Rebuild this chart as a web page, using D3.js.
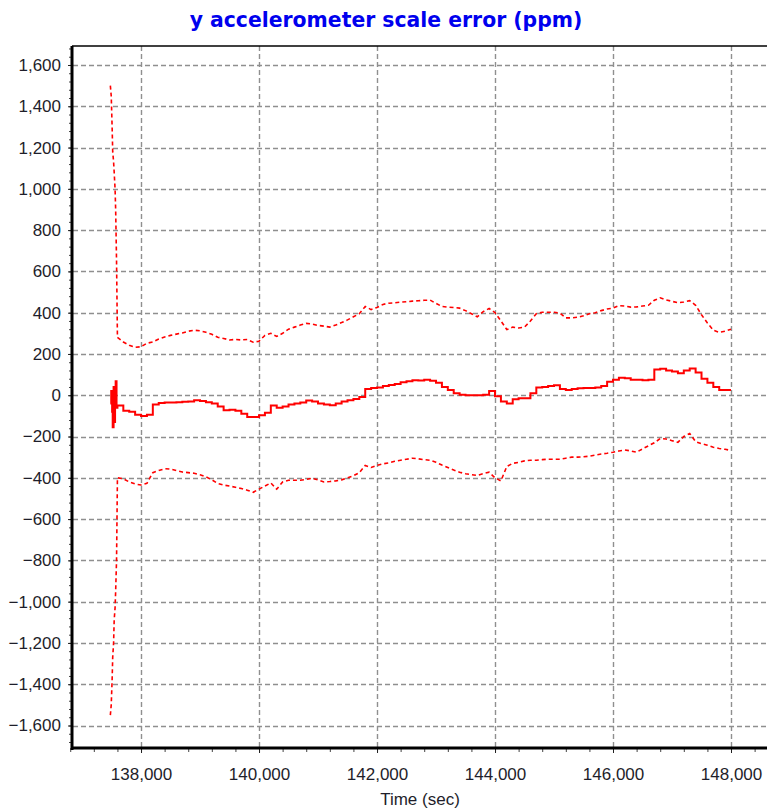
<!DOCTYPE html>
<html>
<head>
<meta charset="utf-8">
<script src="https://cdn.jsdelivr.net/npm/d3@7"></script>
<style>
  html, body { margin: 0; padding: 0; background: #fff; }
  svg { display: block; font-family: "Liberation Sans", Arial, sans-serif; }
</style>
</head>
<body>
<svg id="chart" width="767" height="812"></svg>
<script>
// ---------------- data ----------------
const title = "y accelerometer scale error (ppm)";
const xLabel = "Time (sec)";
const xTickValues = [138000, 140000, 142000, 144000, 146000, 148000];
const yTickValues = [-1600, -1400, -1200, -1000, -800, -600, -400, -200, 0, 200, 400, 600, 800, 1000, 1200, 1400, 1600];

const time = [
  137480, 137495, 137510, 137520, 137535, 137545, 137560, 137570, 137585,
  137600, 137700, 137800, 137900, 138000, 138100, 138200, 138300, 138400, 138500,
  138600, 138700, 138800, 138900, 139000, 139100, 139200, 139300, 139400, 139500,
  139600, 139700, 139800, 139900, 140000, 140100, 140200, 140300, 140400, 140500,
  140600, 140700, 140800, 140900, 141000, 141100, 141200, 141300, 141400, 141500,
  141600, 141700, 141800, 141900, 142000, 142100, 142200, 142300, 142400, 142500,
  142600, 142700, 142800, 142900, 143000, 143100, 143200, 143300, 143400, 143500,
  143600, 143700, 143800, 143900, 144000, 144100, 144200, 144300, 144400, 144500,
  144600, 144700, 144800, 144900, 145000, 145100, 145200, 145300, 145400, 145500,
  145600, 145700, 145800, 145900, 146000, 146100, 146200, 146300, 146400, 146500,
  146600, 146700, 146800, 146900, 147000, 147100, 147200, 147300, 147400, 147500,
  147600, 147700, 147800, 147900, 148000
];
const scaleErrorUpper = [
  1500, 1450, 1300, 1180, 1130, 1080, 1000, 900, 650,
  280, 258, 242, 232, 235, 252, 258, 272, 282, 290,
  296, 302, 310, 315, 312, 305, 295, 281, 275, 268,
  270, 268, 270, 257, 262, 290, 300, 285, 300, 320,
  330, 340, 348, 345, 338, 335, 330, 340, 352, 365,
  380, 395, 430, 415, 425, 440, 446, 448, 451, 453,
  456, 458, 460, 461, 445, 430, 427, 425, 422, 410,
  395, 380, 405, 420, 400, 360, 318, 330, 326, 330,
  360, 395, 402, 402, 402, 398, 375, 375, 378, 385,
  395, 400, 410, 418, 422, 434, 432, 427, 428, 432,
  436, 460, 472, 462, 455, 448, 452, 458, 436, 390,
  350, 315, 305, 310, 320
];
const scaleErrorMean = [
  -40, 20, -80, -155, 40, -130, 30, 68, -60,
  -50, -75, -80, -95, -100, -95, -45, -38, -35, -35,
  -34, -32, -30, -24, -28, -34, -40, -55, -73, -70,
  -75, -90, -105, -105, -97, -85, -50, -60, -55, -45,
  -40, -35, -25, -30, -40, -45, -48, -40, -30, -24,
  -18, -8, 30, 35, 38, 45, 50, 55, 63, 68,
  73, 72, 75, 70, 60, 40, 25, 10, 2, 0,
  0, 0, 2, 20, -5, -30, -40, -20, -15, -15,
  10, 38, 40, 45, 48, 30, 25, 30, 34, 35,
  35, 38, 45, 65, 75, 85, 82, 75, 75, 73,
  75, 125, 128, 120, 115, 107, 120, 130, 110, 80,
  60, 40, 25, 25, 25
];
const scaleErrorLower = [
  -1550, -1500, -1380, -1270, -1200, -1090, -1030, -950, -800,
  -400, -405, -420, -430, -435, -427, -375, -365, -356, -358,
  -365, -372, -375, -378, -385, -395, -410, -427, -435, -440,
  -446, -452, -460, -470, -455, -440, -425, -455, -420, -412,
  -412, -412, -408, -402, -410, -420, -418, -415, -410, -400,
  -390, -375, -340, -350, -340, -332, -328, -320, -315, -310,
  -305, -308, -312, -315, -325, -338, -350, -362, -373, -380,
  -385, -388, -380, -373, -400, -415, -345, -330, -325, -318,
  -315, -315, -312, -310, -310, -310, -305, -300, -300, -298,
  -295, -290, -285, -281, -276, -270, -265, -270, -276, -260,
  -245, -230, -210, -212, -220, -228, -200, -185, -225, -235,
  -242, -252, -258, -262, -267
];

// ---------------- layout ----------------
const pLeft = 73, pRight = 767, pTop = 46, pBottom = 748;
const svg = d3.select("#chart");

const x = d3.scaleLinear().domain([136847, 148610]).range([pLeft, pRight]);
const y = d3.scaleLinear().domain([-1709, 1692]).range([pBottom, pTop]);

// gridlines
const grid = svg.append("g").attr("stroke", "#8f8f8f").attr("stroke-width", 1.4)
  .attr("stroke-dasharray", "5,3").attr("fill", "none");
grid.selectAll("line.h").data(yTickValues).join("line").attr("class", "h")
  .attr("x1", pLeft).attr("x2", pRight)
  .attr("y1", d => Math.round(y(d)) + 0.5).attr("y2", d => Math.round(y(d)) + 0.5);
grid.selectAll("line.v").data(xTickValues).join("line").attr("class", "v")
  .attr("y1", pTop).attr("y2", pBottom)
  .attr("x1", d => Math.round(x(d)) + 0.5).attr("x2", d => Math.round(x(d)) + 0.5);

// series
const idx = time.map((t, i) => i);
const makeLine = (vals, curve) => d3.line().curve(curve).x(i => x(time[i])).y(i => y(vals[i]));
const plot = svg.append("g").attr("fill", "none").attr("stroke", "#ff0000");
plot.append("path").attr("d", makeLine(scaleErrorUpper, d3.curveLinear)(idx))
  .attr("stroke-width", 1.6).attr("stroke-dasharray", "4,3");
plot.append("path").attr("d", makeLine(scaleErrorLower, d3.curveLinear)(idx))
  .attr("stroke-width", 1.6).attr("stroke-dasharray", "4,3");
plot.append("path").attr("d", makeLine(scaleErrorMean, d3.curveStepAfter)(idx))
  .attr("stroke-width", 2);

// top border
svg.append("line").attr("x1", pLeft - 1).attr("x2", pRight).attr("y1", pTop).attr("y2", pTop)
  .attr("stroke", "#000").attr("stroke-width", 1.5);

// axes
const fmt = d3.format(",");
const yMinor = d3.range(-1680, 1681, 40);
const xMinor = d3.range(136800, 148600, 400);
const tickFont = "Liberation Sans, Arial, sans-serif";

const yAxis = svg.append("g").attr("transform", `translate(${pLeft},0)`)
  .call(d3.axisLeft(y).tickValues(yMinor).tickSize(4).tickFormat(""));
yAxis.select(".domain").remove();
yAxis.selectAll(".tick line").attr("stroke", "#444");
const yLab = svg.append("g").attr("transform", `translate(${pLeft},0)`)
  .call(d3.axisLeft(y).tickValues(yTickValues).tickSize(5).tickPadding(7).tickFormat(fmt));
yLab.select(".domain").remove();
yLab.selectAll(".tick line").attr("stroke", "#222");
yLab.selectAll("text").attr("font-size", 17).attr("fill", "#1e1e2a")
  .attr("font-family", tickFont);

const xAxis = svg.append("g").attr("transform", `translate(0,${pBottom})`)
  .call(d3.axisBottom(x).tickValues(xMinor).tickSize(4).tickFormat(""));
xAxis.select(".domain").remove();
xAxis.selectAll(".tick line").attr("stroke", "#444");
const xLab = svg.append("g").attr("transform", `translate(0,${pBottom})`)
  .call(d3.axisBottom(x).tickValues(xTickValues).tickSize(5).tickPadding(15).tickFormat(fmt));
xLab.select(".domain").remove();
xLab.selectAll(".tick line").attr("stroke", "#222");
xLab.selectAll("text").attr("font-size", 17).attr("fill", "#1e1e2a")
  .attr("font-family", tickFont);

// axis lines (thick)
svg.append("line").attr("x1", pLeft - 1).attr("x2", pLeft - 1).attr("y1", pTop).attr("y2", pBottom + 2)
  .attr("stroke", "#000").attr("stroke-width", 3);
svg.append("line").attr("x1", pLeft - 1).attr("x2", pRight).attr("y1", pBottom).attr("y2", pBottom)
  .attr("stroke", "#000").attr("stroke-width", 3);

// title and axis label
const t = svg.append("text").attr("x", 386).attr("y", 27).attr("text-anchor", "middle")
  .attr("font-family", "DejaVu Sans, Verdana, sans-serif")
  .attr("font-size", 18).attr("font-weight", "bold").attr("fill", "#0000ee")
  .text(title);
const w = t.node().getComputedTextLength();
if (w > 0) t.attr("font-size", 18 * 393 / w);
svg.append("text").attr("x", 420).attr("y", 805).attr("text-anchor", "middle")
  .attr("font-size", 17).attr("fill", "#1e1e2a").text(xLabel);
</script>
</body>
</html>
